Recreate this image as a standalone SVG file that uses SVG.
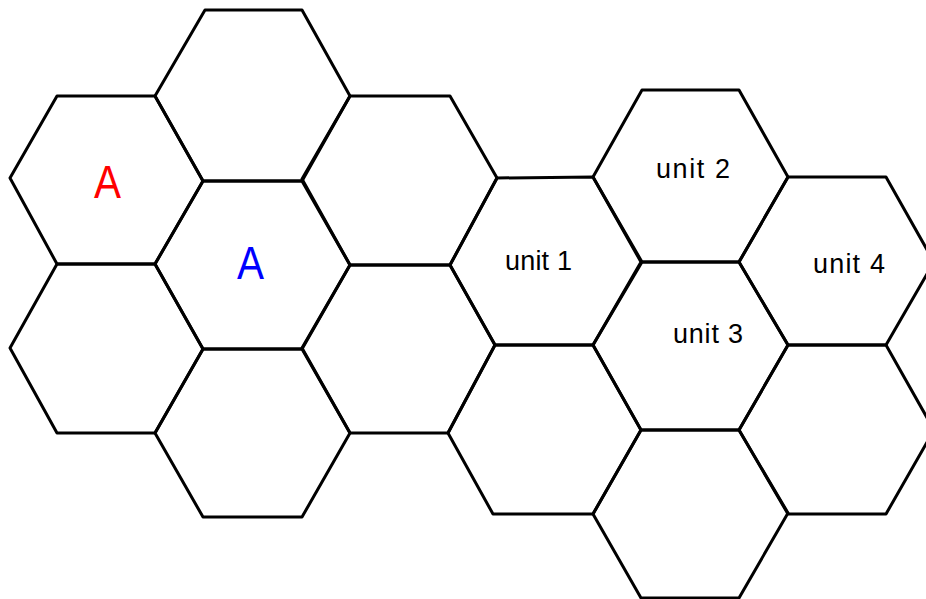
<svg xmlns="http://www.w3.org/2000/svg" width="926" height="599" viewBox="0 0 926 599">
<style>
.hex{fill:none;stroke:#000;stroke-width:3;stroke-linejoin:round}
.lbl{font-family:"Liberation Sans",Arial,sans-serif;font-size:27px;fill:#000}
.big{font-family:"Liberation Sans",Arial,sans-serif;font-size:46px;text-anchor:middle}
</style>
<rect width="926" height="599" fill="#fff"/>
<g id="hex-c0-r0"><polygon class="hex" points="10,178 57,96 155,96 203,181 155,264 57,264"/>
<text class="big" fill="#ff0000" transform="translate(107.5,198) scale(0.88,1)">A</text></g>
<g id="hex-c0-r1"><polygon class="hex" points="10,348 57,264 155,264 203,349 155,433 57,433"/></g>
<g id="hex-c1-r0"><polygon class="hex" points="155,96 205,10 302,10 350,96 302,181 203,181"/></g>
<g id="hex-c1-r1"><polygon class="hex" points="155,264 203,181 302,181 350,265 302,349 203,349"/>
<text class="big" fill="#0000ff" transform="translate(250.5,279) scale(0.88,1)">A</text></g>
<g id="hex-c1-r2"><polygon class="hex" points="155,433 203,349 302,349 350,433 302,517 203,517"/></g>
<g id="hex-c2-r0"><polygon class="hex" points="302,179 350,96 450,96 497,178 450,265 350,265"/></g>
<g id="hex-c2-r1"><polygon class="hex" points="302,348 350,265 450,265 495,345 448,433 350,433"/></g>
<g id="unit1"><polygon class="hex" points="450,265 497,178 593,177 641,262 593,345 495,345"/>
<text class="lbl" x="505" y="270" textLength="67" lengthAdjust="spacing">unit 1</text></g>
<g id="hex-c3-r1"><polygon class="hex" points="448,433 495,345 593,345 641,430 593,514 493,514"/></g>
<g id="unit2"><polygon class="hex" points="593,177 642,90 739,90 788,177 739,262 642,262"/>
<text class="lbl" x="656" y="178" textLength="74" lengthAdjust="spacing">unit 2</text></g>
<g id="unit3"><polygon class="hex" points="593,345 642,262 739,262 788,345 739,430 641,430"/>
<text class="lbl" x="673" y="343" textLength="70" lengthAdjust="spacing">unit 3</text></g>
<g id="hex-c4-r2"><polygon class="hex" points="593,514 641,430 739,430 788,513 739,598 641,598"/></g>
<g id="unit4"><polygon class="hex" points="739,262 788,177 886,177 934,262 886,345 788,345"/>
<text class="lbl" x="813" y="273" textLength="72" lengthAdjust="spacing">unit 4</text></g>
<g id="hex-c5-r1"><polygon class="hex" points="739,430 788,345 886,345 934,430 886,514 788,514"/></g>
<g id="connectors"></g>
</svg>
